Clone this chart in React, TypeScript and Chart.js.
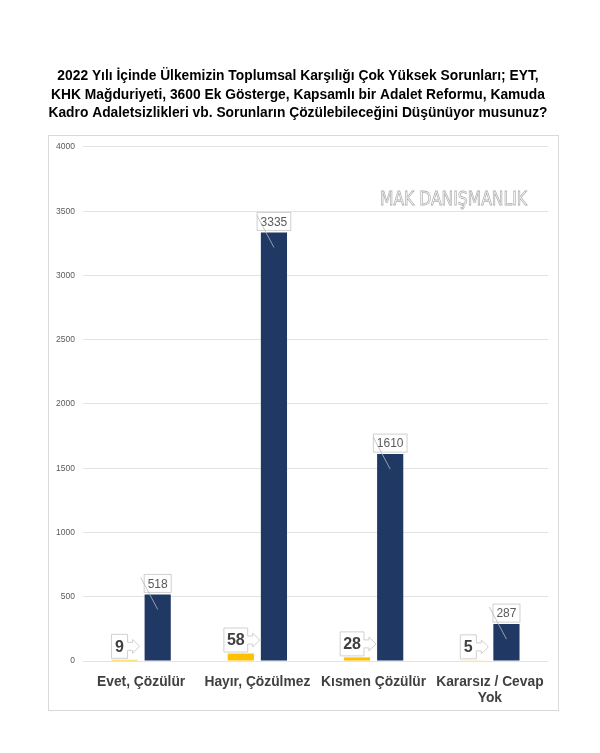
import React, { useEffect, useRef } from "react";
import { Chart, registerables } from "chart.js";

Chart.register(...registerables);

const titleLines = [
  "2022 Yılı İçinde Ülkemizin Toplumsal Karşılığı Çok Yüksek Sorunları; EYT,",
  "KHK Mağduriyeti, 3600 Ek Gösterge, Kapsamlı bir Adalet Reformu, Kamuda",
  "Kadro Adaletsizlikleri vb. Sorunların Çözülebileceğini Düşünüyor musunuz?",
];
const categories: (string | string[])[] = [
  "Evet, Çözülür",
  "Hayır, Çözülmez",
  "Kısmen Çözülür",
  ["Kararsız / Cevap", "Yok"],
];
const yellowValues = [9, 58, 28, 5];
const navyValues = [518, 3335, 1610, 287];
const watermark = "MAK DANIŞMANLIK";

const YELLOW = "#ffc000";
const NAVY = "#203864";

const framePlugin = {
  id: "frame",
  beforeDraw(chart: any) {
    const { ctx, chartArea: a } = chart;
    ctx.save();
    ctx.fillStyle = "#ffffff";
    ctx.fillRect(0, 0, chart.width, chart.height);
    ctx.strokeStyle = "#d9d9d9";
    ctx.lineWidth = 1;
    ctx.strokeRect(Math.round(a.left - 35) + 0.5, Math.round(a.top - 12) + 0.5, a.width + 45, a.height + 61);
    // watermark
    ctx.font = "20px 'DejaVu Sans Condensed', 'DejaVu Sans'";
    const w = ctx.measureText(watermark).width;
    const target = 147;
    const right = a.right - 21;
    ctx.translate(right - target, a.top + 58);
    ctx.scale(target / w, 1);
    ctx.strokeStyle = "#b0b0b0";
    ctx.lineWidth = 0.8;
    ctx.textBaseline = "alphabetic";
    ctx.strokeText(watermark, 0, 0);
    ctx.restore();
  },
};

const labelPlugin = {
  id: "labels",
  afterDatasetsDraw(chart: any) {
    const ctx = chart.ctx;
    ctx.save();
    // yellow callouts
    const m0 = chart.getDatasetMeta(0);
    ctx.font = "bold 16px 'Liberation Sans', Arial";
    m0.data.forEach((el: any, i: number) => {
      const txt = String(yellowValues[i]);
      const tw = ctx.measureText(txt).width;
      const bw = Math.max(tw + 6, 16);
      const bh = 24;
      const al = 12;
      const total = bw + al;
      const left = el.x - total / 2 + 1;
      const bottom = el.y - 1.5;
      const top = bottom - bh;
      const cy = top + bh / 2;
      ctx.beginPath();
      ctx.moveTo(left, top);
      ctx.lineTo(left + bw, top);
      ctx.lineTo(left + bw, cy - 4);
      ctx.lineTo(left + bw + 5, cy - 4);
      ctx.lineTo(left + bw + 5, cy - 7);
      ctx.lineTo(left + bw + al, cy);
      ctx.lineTo(left + bw + 5, cy + 7);
      ctx.lineTo(left + bw + 5, cy + 4);
      ctx.lineTo(left + bw, cy + 4);
      ctx.lineTo(left + bw, bottom);
      ctx.lineTo(left, bottom);
      ctx.closePath();
      ctx.fillStyle = "#ffffff";
      ctx.fill();
      ctx.strokeStyle = "#d0d0d0";
      ctx.lineWidth = 1;
      ctx.stroke();
      ctx.fillStyle = "#404040";
      ctx.textAlign = "center";
      ctx.textBaseline = "middle";
      ctx.fillText(txt, left + bw / 2, cy + 1);
    });
    // navy boxes
    const m1 = chart.getDatasetMeta(1);
    ctx.font = "12px 'Liberation Sans', Arial";
    m1.data.forEach((el: any, i: number) => {
      const txt = String(navyValues[i]);
      const tw = ctx.measureText(txt).width;
      const bw = tw + 7;
      const bh = 18;
      const bottom = el.y - 2;
      const top = bottom - bh;
      ctx.fillStyle = "#ffffff";
      ctx.fillRect(el.x - bw / 2, top, bw, bh);
      ctx.strokeStyle = "#d0d0d0";
      ctx.lineWidth = 1;
      ctx.strokeRect(el.x - bw / 2, top, bw, bh);
      ctx.fillStyle = "#595959";
      ctx.textAlign = "center";
      ctx.textBaseline = "middle";
      ctx.fillText(txt, el.x, top + bh / 2 + 1);
      ctx.beginPath();
      ctx.moveTo(el.x - 17, top + 3);
      ctx.lineTo(el.x, el.y + 15);
      ctx.strokeStyle = "#b8b8b8";
      ctx.lineWidth = 0.8;
      ctx.stroke();
    });
    ctx.restore();
  },
};

export default function App() {
  const ref = useRef<HTMLCanvasElement | null>(null);
  useEffect(() => {
    if (!ref.current) return;
    const chart = new Chart(ref.current, {
      type: "bar",
      data: {
        labels: categories as any,
        datasets: [
          {
            label: "A",
            data: yellowValues,
            backgroundColor: YELLOW,
            categoryPercentage: 0.57,
            barPercentage: 0.79,
          },
          {
            label: "B",
            data: navyValues,
            backgroundColor: NAVY,
            categoryPercentage: 0.57,
            barPercentage: 0.79,
          },
        ],
      },
      options: {
        animation: false,
        responsive: true,
        maintainAspectRatio: false,
        layout: { padding: { top: 60, left: 48, right: 52, bottom: 43 } },
        plugins: {
          legend: { display: false },
          tooltip: { enabled: false },
          title: {
            display: true,
            text: titleLines,
            color: "#000000",
            font: { family: "'Liberation Sans', Arial", size: 13.8, weight: "bold", lineHeight: 1.34 },
            padding: { top: 7, bottom: 24.5 },
          },
        },
        scales: {
          x: {
            grid: { display: false, drawTicks: false },
            border: { display: false },
            ticks: {
              color: "#404040",
              font: { family: "'Liberation Sans', Arial", size: 13.8, weight: "bold", lineHeight: 1.16 },
              padding: 13,
              maxRotation: 0,
              autoSkip: false,
            },
            afterFit: (s: any) => {
              s.height = 49;
            },
          },
          y: {
            min: 0,
            max: 4000,
            ticks: {
              stepSize: 500,
              color: "#595959",
              font: { family: "'Liberation Sans', Arial", size: 8.5 },
              padding: 8,
              callback: (v: any) => String(v),
            },
            grid: { color: "#e3e3e3", drawTicks: false },
            border: { display: false },
            afterFit: (s: any) => {
              s.width = 35;
            },
          },
        },
      },
      plugins: [framePlugin, labelPlugin],
    });
    return () => chart.destroy();
  }, []);
  return (
    <div style={{ position: "absolute", left: 0, top: 0, width: 600, height: 753 }}>
      <canvas ref={ref} />
    </div>
  );
}
